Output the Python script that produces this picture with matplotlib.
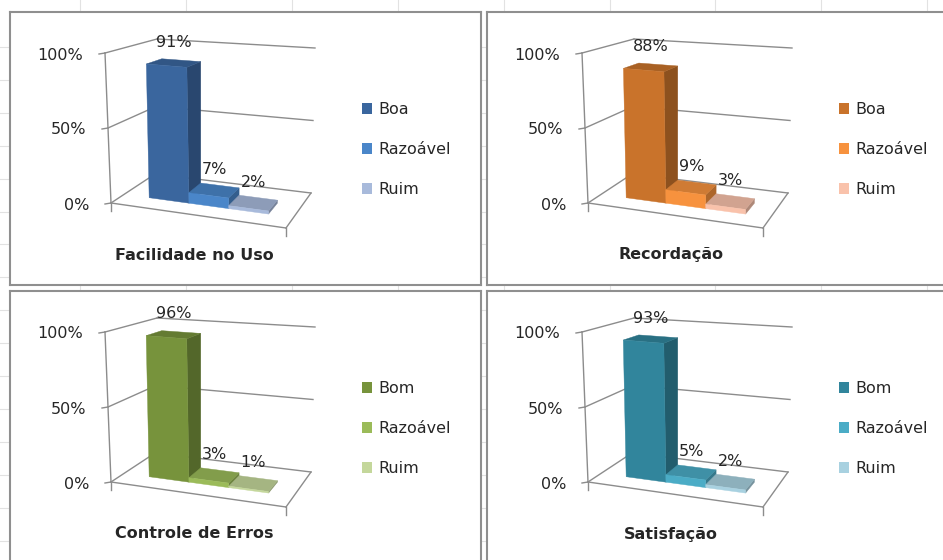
import matplotlib
matplotlib.use("Agg")
import matplotlib.pyplot as plt
from matplotlib.patches import Polygon, Patch
import numpy as np

# ---------------- data ----------------
titles = ["Facilidade no Uso", "Recordação", "Controle de Erros", "Satisfação"]
series_labels = [
    ["Boa", "Razoável", "Ruim"],
    ["Boa", "Razoável", "Ruim"],
    ["Bom", "Razoável", "Ruim"],
    ["Bom", "Razoável", "Ruim"],
]
values = [
    [0.91, 0.07, 0.02],
    [0.88, 0.09, 0.03],
    [0.96, 0.03, 0.01],
    [0.93, 0.05, 0.02],
]
palettes = [
    ["#3A669E", "#4A86C9", "#A8BADB"],
    ["#C9732B", "#F7923E", "#F9C2AB"],
    ["#77933C", "#9BBB59", "#C4D79B"],
    ["#31859C", "#4BACC6", "#A8D1E0"],
]
value_ticks = [0.0, 0.5, 1.0]
value_tick_labels = ["0%", "50%", "100%"]

# ---------------- layout ----------------
W, H = 943, 560
plt.rcParams["font.family"] = ["DejaVu Sans"]
plt.rcParams["font.size"] = 11.5
TXT = "#262626"
GRID = "#8c8c8c"

fig = plt.figure(figsize=(W / 100, H / 100), dpi=100)

# background spreadsheet cells
bg = fig.add_axes([0, 0, 1, 1])
bg.set_xlim(0, W)
bg.set_ylim(H, 0)
bg.axis("off")
for k in range(9):
    bg.axvline(80 + 105.9 * k, color="#e2e2e2", lw=0.8)
for k in range(16):
    bg.axhline(47 + 32.9 * k, color="#e2e2e2", lw=0.8)

panels = [(10, 12, 481, 285), (487, 12, 965, 285),
          (10, 291, 481, 580), (487, 291, 965, 580)]

# perspective-like box corners (panel pixel coords): base and vertical vectors
FL0, vFL = np.array([101.0, 191.0]), np.array([-6.0, -150.0])
BL0, vBL = np.array([145.0, 162.0]), np.array([2.0, -135.0])
FR0, vFR = np.array([276.0, 216.0]), np.array([-2.0, -160.0])
BR0, vBR = np.array([301.0, 181.0]), np.array([4.0, -145.0])


def bil(a, b, c, d, u, dd):
    front = a + (b - a) * u
    back = c + (d - c) * u
    return front + (back - front) * dd


def P(u, d, z):
    base = bil(FL0, FR0, BL0, BR0, u, d)
    vert = bil(vFL, vFR, vBL, vBR, u, d)
    return base + z * vert


def shade(c, f):
    r, g, b = matplotlib.colors.to_rgb(c)
    return (r * f, g * f, b * f)


bar_w = 0.235
d0, d1 = 0.30, 0.62

for i, (x0, y0, x1, y1) in enumerate(panels):
    pw, ph = x1 - x0, y1 - y0
    ax = fig.add_axes([x0 / W, 1 - y1 / H, pw / W, ph / H])
    ax.set_xlim(0, pw)
    ax.set_ylim(ph, 0)
    ax.set_xticks([])
    ax.set_yticks([])
    ax.set_facecolor("white")
    for s in ax.spines.values():
        s.set_color("#8f8f8f")
        s.set_linewidth(1.5)

    def line(*pts, **kw):
        arr = np.array([P(*p) for p in pts])
        ax.plot(arr[:, 0], arr[:, 1], color=GRID, lw=1.0, **kw)

    # walls and floor
    for z in value_ticks:
        line((0, 0, z), (0, 1, z))
        line((0, 1, z), (1, 1, z))
    line((0, 0, 0), (0, 0, 1))
    line((0, 0, 0), (1, 0, 0))
    line((1, 0, 0), (1, 1, 0))
    # ticks
    for z, lab in zip(value_ticks, value_tick_labels):
        px, py = P(0, 0, z)
        ax.plot([px, px - 6], [py, py + 1], color=GRID, lw=1.0)
        ax.text(px - 22, py + 2, lab, ha="right", va="center", color=TXT)
    for u in (0, 1):
        px, py = P(u, 0, 0)
        ax.plot([px, px], [py, py + 8], color=GRID, lw=1.0)

    # bars
    vals = values[i]
    cols = palettes[i]
    n = len(vals)
    for k, (v, c) in enumerate(zip(vals, cols)):
        u0 = 0.5 - n * bar_w / 2 + k * bar_w
        u1 = u0 + bar_w
        side = [P(u1, d0, 0), P(u1, d1, 0), P(u1, d1, v), P(u1, d0, v)]
        top = [P(u0, d0, v), P(u1, d0, v), P(u1, d1, v), P(u0, d1, v)]
        front = [P(u0, d0, 0), P(u1, d0, 0), P(u1, d0, v), P(u0, d0, v)]
        for poly, col in ((side, shade(c, 0.70)), (top, shade(c, 0.84)), (front, c)):
            ax.add_patch(Polygon(poly, closed=True, facecolor=col,
                                 edgecolor=col, lw=0.3, zorder=3))
        lx, ly = P((u0 + u1) / 2, (d0 + d1) / 2, v)
        ax.annotate(f"{round(v * 100)}%", (lx, ly), xytext=(0, 15),
                    textcoords="offset points", ha="center", va="center",
                    color=TXT, zorder=5)

    # legend
    handles = [Patch(facecolor=c, edgecolor="none") for c in cols]
    ax.legend(handles, series_labels[i], loc="upper left",
              bbox_to_anchor=(352, 90), bbox_transform=ax.transData,
              frameon=False, handlelength=0.65, handleheight=0.65,
              handletextpad=0.4, labelspacing=1.57, borderpad=0,
              borderaxespad=0, labelcolor=TXT)

    ax.text(184, 243, titles[i], ha="center", va="center",
            fontweight="bold", color=TXT)

fig.savefig("out.png", dpi=100)
